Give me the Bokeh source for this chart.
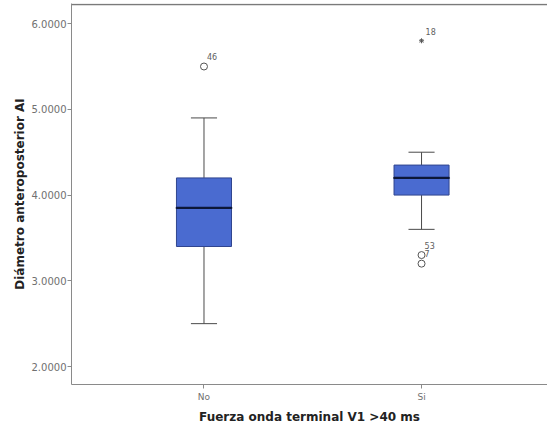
from bokeh.plotting import figure
from bokeh.models import Range1d, FixedTicker, ColumnDataSource
from bokeh.core.properties import value
from bokeh.embed import file_html
from bokeh.resources import INLINE

# Box-plot summary per group
categories = ["No", "Si"]
q1 = [3.40, 4.00]
median = [3.85, 4.20]
q3 = [4.20, 4.35]
whisker_low = [2.50, 3.60]
whisker_high = [4.90, 4.50]

# Outliers (circles) and extreme values (asterisks) with case numbers
outlier_cat = ["No", "Si", "Si"]
outlier_val = [5.50, 3.30, 3.20]
outlier_id = ["46", "53", "7"]
extreme_cat = ["Si"]
extreme_val = [5.80]
extreme_id = ["18"]

y_ticks = [2.0, 3.0, 4.0, 5.0, 6.0]

FONT = "DejaVu Sans"
pos = {c: i + 1 for i, c in enumerate(categories)}
xs = [pos[c] for c in categories]

X0, X1 = 0.391, 2.579
Y0, Y1 = 1.790, 6.235
axis_col = "#8a8a8a"
p = figure(width=547, height=427, output_backend="svg", toolbar_location=None,
           x_range=Range1d(X0, X1), y_range=Range1d(Y0, Y1),
           min_border_left=71, min_border_right=0, min_border_top=3,
           min_border_bottom=43)
p.outline_line_color = None
p.background_fill_color = "white"
p.border_fill_color = "white"
p.xgrid.visible = False
p.ygrid.visible = False

for ax in (p.xaxis[0], p.yaxis[0]):
    ax.axis_line_color = axis_col
    ax.major_tick_line_color = axis_col
    ax.minor_tick_line_color = None
    ax.major_tick_out = 4
    ax.major_tick_in = 0
    ax.major_label_text_color = "#707070"
    ax.major_label_text_font = FONT
    ax.major_label_text_font_size = "10px"
    ax.axis_label_text_font = FONT
    ax.axis_label_text_font_style = "bold"
    ax.axis_label_text_font_size = "12px"
    ax.axis_label_text_color = "#222222"

p.yaxis.ticker = FixedTicker(ticks=y_ticks)
p.yaxis.major_label_overrides = {t: f"{t:.4f}" for t in y_ticks}
p.yaxis.major_label_standoff = 1
p.yaxis.axis_label = "Diámetro anteroposterior AI"
p.yaxis.axis_label_standoff = 2

p.xaxis.ticker = FixedTicker(ticks=xs)
p.xaxis.major_label_overrides = {pos[c]: c for c in categories}
p.xaxis.major_label_standoff = 3
p.xaxis.major_label_text_font_size = "9px"
p.xaxis.axis_label = "Fuerza onda terminal V1 >40 ms"
p.xaxis.axis_label_standoff = 5

# top edge of the plotting frame (no right edge)
p.segment(x0=[X0], y0=[Y1 - 0.012], x1=[X1], y1=[Y1 - 0.012],
          line_color="#7a7a7a", line_width=1.5)

src = ColumnDataSource(dict(x=xs, q1=q1, med=median, q3=q3,
                            lo=whisker_low, hi=whisker_high))

box_w = 0.253
cap_w = 0.12
line_col = "#4a4a4a"

# whiskers
p.segment(x0="x", y0="q3", x1="x", y1="hi", source=src, line_color=line_col, line_width=1)
p.segment(x0="x", y0="lo", x1="x", y1="q1", source=src, line_color=line_col, line_width=1)
cap_x0 = [x - cap_w / 2 for x in xs]
cap_x1 = [x + cap_w / 2 for x in xs]
p.segment(x0=cap_x0, y0=whisker_high, x1=cap_x1, y1=whisker_high, line_color=line_col, line_width=1)
p.segment(x0=cap_x0, y0=whisker_low, x1=cap_x1, y1=whisker_low, line_color=line_col, line_width=1)

# boxes
p.vbar(x="x", width=box_w, bottom="q1", top="q3", source=src,
       fill_color="#4a6bd0", line_color="#30458f", line_width=1)
p.rect(x="x", y="med", width=box_w, height=0.0001, height_units="data", source=src,
       line_color="#0c1738", line_width=2.2, fill_color=None)

# outliers
ox = [pos[c] for c in outlier_cat]
p.scatter(ox, outlier_val, marker="circle", size=7, fill_color="white",
          line_color="#555555", line_width=1)
p.text(ox, outlier_val, text=outlier_id, x_offset=3, y_offset=-10,
       text_font=value(FONT), text_font_size="8px", text_color="#606060",
       text_align="left", text_baseline="middle")

ex = [pos[c] for c in extreme_cat]
p.scatter(ex, extreme_val, marker="asterisk", size=5, line_color="#555555", line_width=1)
p.text(ex, extreme_val, text=extreme_id, x_offset=4, y_offset=-9,
       text_font=value(FONT), text_font_size="8px", text_color="#606060",
       text_align="left", text_baseline="middle")

open("out.html", "w").write(file_html(p, INLINE))
